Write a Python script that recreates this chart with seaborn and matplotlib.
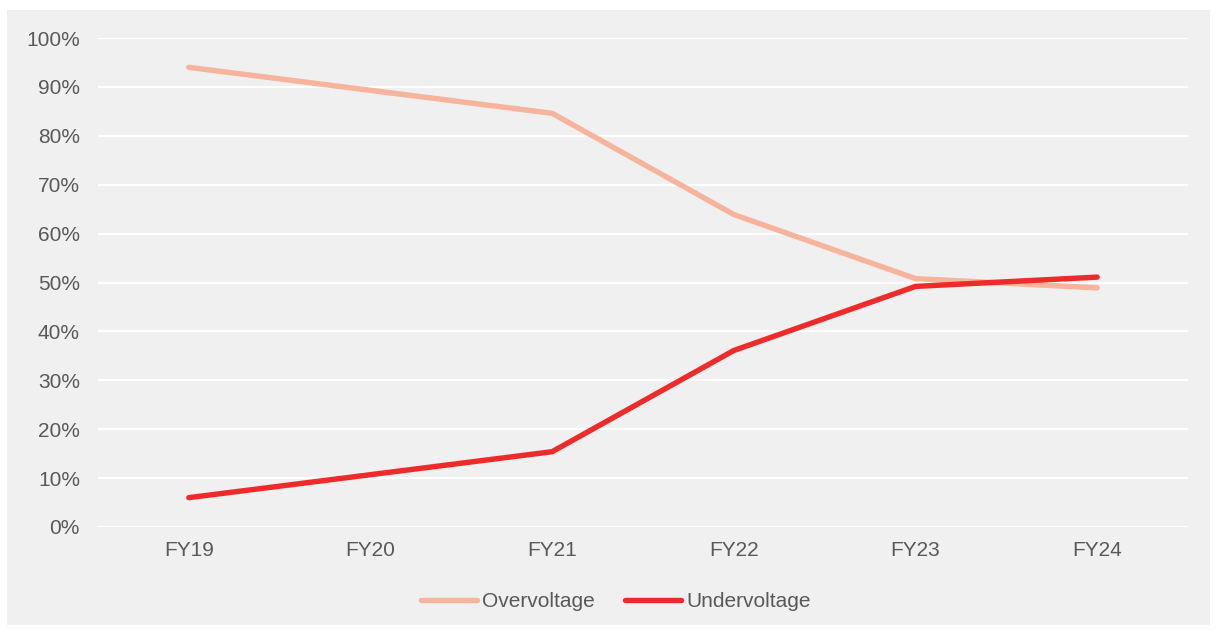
import matplotlib
matplotlib.use("Agg")
import matplotlib.pyplot as plt
import matplotlib.patches as mpatches
import seaborn as sns
import pandas as pd
from matplotlib.ticker import PercentFormatter

years = ["FY19", "FY20", "FY21", "FY22", "FY23", "FY24"]
overvoltage = [94.0, 89.3, 84.6, 63.9, 50.8, 48.9]
undervoltage = [6.0, 10.7, 15.4, 36.1, 49.2, 51.1]

series_names = ["Overvoltage", "Undervoltage"]
palette = {"Overvoltage": "#f7b49c", "Undervoltage": "#ee2b2b"}

df = pd.DataFrame({
    "year": years * 2,
    "share": overvoltage + undervoltage,
    "series": [series_names[0]] * len(years) + [series_names[1]] * len(years),
})

sns.set_style("white")
plt.rcParams["font.family"] = ["Liberation Sans", "DejaVu Sans"]

W, H = 1217, 630
fig = plt.figure(figsize=(W / 100, H / 100), dpi=100)
fig.patch.set_facecolor("white")
# grey panel behind the chart
fig.add_artist(mpatches.Rectangle((7 / W, 1 - 625 / H), (1210 - 7) / W, (625 - 10) / H,
                                  transform=fig.transFigure, facecolor="#f0f0f0",
                                  edgecolor="none", zorder=0))

ax = fig.add_axes([98 / W, 1 - 527 / H, (1188 - 98) / W, (527 - 38) / H])
ax.set_facecolor("none")

sns.lineplot(data=df, x="year", y="share", hue="series", palette=palette,
             linewidth=3.9, ax=ax, sort=False, legend=True)
for ln in ax.lines:
    ln.set_solid_capstyle("round")

ax.set_xlim(-0.5, len(years) - 0.5)
ax.set_ylim(0, 100)
ax.set_yticks(range(0, 101, 10))
ax.yaxis.set_major_formatter(PercentFormatter(decimals=0))
ax.grid(axis="y", color="white", linewidth=1.6)
ax.set_axisbelow(True)
for s in ax.spines.values():
    s.set_visible(False)
ax.tick_params(axis="both", length=0, labelsize=15, labelcolor="#595959")
ax.tick_params(axis="y", pad=13)
ax.tick_params(axis="x", pad=10)
ax.set_xlabel("")
ax.set_ylabel("")

leg = ax.legend(loc="center", bbox_to_anchor=(0.475, -0.152), ncol=2, frameon=False,
                fontsize=15, labelcolor="#595959", handlelength=2.7, handletextpad=0.25,
                columnspacing=1.45)
for h in leg.get_lines():
    h.set_linewidth(3.9)
    h.set_solid_capstyle("round")

fig.savefig("out.png", dpi=100)
